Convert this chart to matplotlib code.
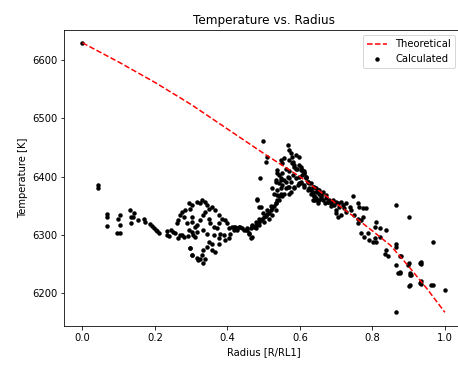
import matplotlib
matplotlib.use("Agg")
import matplotlib.pyplot as plt

# Theoretical curve
radius_theory = [0.0, 0.1, 0.2, 0.3, 0.4, 0.5, 0.6, 0.7, 0.75, 0.8, 0.85, 0.9, 0.95, 1.0]
temp_theory = [6630, 6597, 6562, 6524, 6482, 6440, 6400, 6354, 6331, 6307, 6282, 6246, 6208, 6167]

# Calculated points
calc_points = [
    (0.0, 6630),
    (0.044, 6380), (0.044, 6386),
    (0.067, 6336), (0.067, 6330), (0.067, 6315),
    (0.103, 6334), (0.098, 6327), (0.105, 6317), (0.096, 6304), (0.105, 6304),
    (0.131, 6342), (0.143, 6338), (0.133, 6330), (0.140, 6330), (0.133, 6320), (0.154, 6326),
    (0.171, 6328), (0.172, 6322),
    (0.187, 6318), (0.192, 6315), (0.197, 6312), (0.202, 6309), (0.206, 6306), (0.210, 6303),
    (0.233, 6300), (0.233, 6306), (0.240, 6298), (0.245, 6308), (0.250, 6305),
    (0.270, 6300), (0.280, 6296), (0.290, 6298), (0.305, 6300), (0.310, 6296),
    # blob
    (0.260, 6320), (0.265, 6325), (0.270, 6334), (0.274, 6340), (0.284, 6342), (0.279, 6331),
    (0.293, 6354), (0.302, 6351), (0.297, 6345), (0.316, 6357), (0.325, 6354), (0.330, 6360),
    (0.339, 6357), (0.343, 6351), (0.348, 6345), (0.357, 6348), (0.367, 6342), (0.376, 6334),
    (0.385, 6328), (0.394, 6325), (0.399, 6320), (0.404, 6311), (0.408, 6302), (0.404, 6294),
    (0.394, 6291), (0.390, 6300), (0.376, 6294),
    (0.302, 6331), (0.302, 6322), (0.316, 6317), (0.325, 6325), (0.334, 6334), (0.339, 6340),
    (0.348, 6328), (0.353, 6320), (0.362, 6314), (0.371, 6311), (0.376, 6320), (0.293, 6308),
    (0.302, 6305), (0.316, 6305), (0.334, 6308), (0.343, 6302), (0.362, 6300), (0.376, 6285),
    (0.380, 6302), (0.357, 6285), (0.348, 6288), (0.343, 6279), (0.334, 6274), (0.330, 6265),
    (0.325, 6259), (0.339, 6259), (0.334, 6251), (0.320, 6257), (0.297, 6277), (0.302, 6265),
    (0.357, 6274), (0.367, 6271), (0.311, 6314), (0.274, 6300), (0.265, 6294), (0.256, 6304),
    (0.288, 6320), (0.298, 6277), (0.302, 6265), (0.316, 6260),
    # band 0.41 - 0.55
    (0.413, 6314), (0.422, 6314), (0.431, 6314), (0.441, 6311), (0.450, 6308), (0.459, 6302),
    (0.417, 6308), (0.427, 6308),
    (0.418, 6314), (0.427, 6311), (0.436, 6313), (0.445, 6309), (0.455, 6308), (0.464, 6311),
    (0.469, 6315), (0.473, 6313), (0.478, 6317), (0.482, 6320), (0.487, 6323), (0.492, 6325),
    (0.496, 6328), (0.501, 6331), (0.506, 6332), (0.510, 6336), (0.515, 6338), (0.519, 6342),
    (0.524, 6346), (0.529, 6350), (0.533, 6354), (0.538, 6360), (0.542, 6366), (0.547, 6371),
    (0.533, 6343), (0.524, 6334), (0.515, 6328), (0.501, 6323), (0.487, 6317), (0.478, 6311),
    (0.464, 6294), (0.469, 6297), (0.459, 6303),
    (0.520, 6349), (0.510, 6343), (0.497, 6337), (0.487, 6328), (0.478, 6323), (0.469, 6317),
    (0.455, 6311),
    # isolated
    (0.482, 6360), (0.487, 6348), (0.490, 6397), (0.506, 6426), (0.510, 6434), (0.498, 6462),
    (0.483, 6361), (0.492, 6348),
    # plume 0.53 - 0.68
    (0.566, 6454), (0.570, 6446), (0.575, 6440), (0.579, 6434), (0.589, 6437), (0.598, 6434),
    (0.570, 6429), (0.579, 6423), (0.561, 6414), (0.570, 6409), (0.584, 6417), (0.593, 6414),
    (0.603, 6411), (0.612, 6409), (0.607, 6403), (0.616, 6397), (0.621, 6391), (0.626, 6389),
    (0.635, 6383), (0.644, 6380), (0.653, 6377), (0.663, 6374), (0.672, 6368),
    (0.552, 6406), (0.547, 6397), (0.556, 6394), (0.566, 6400), (0.575, 6391), (0.589, 6397),
    (0.598, 6389), (0.584, 6383), (0.570, 6383), (0.561, 6380), (0.547, 6380), (0.542, 6389),
    (0.538, 6377), (0.556, 6371), (0.570, 6371), (0.612, 6383), (0.621, 6377), (0.630, 6371),
    (0.640, 6366), (0.644, 6360), (0.658, 6363), (0.538, 6406), (0.533, 6394),
    (0.547, 6429), (0.552, 6423), (0.557, 6432), (0.580, 6426), (0.584, 6420), (0.589, 6414),
    (0.598, 6420), (0.607, 6412), (0.612, 6406), (0.617, 6400), (0.538, 6411), (0.543, 6403),
    (0.547, 6394), (0.534, 6391), (0.552, 6386), (0.561, 6391), (0.571, 6397), (0.580, 6403),
    (0.566, 6383), (0.575, 6374), (0.584, 6380), (0.594, 6386), (0.603, 6391), (0.524, 6380),
    (0.529, 6371), (0.538, 6369), (0.543, 6360), (0.552, 6366), (0.534, 6354),
    (0.630, 6377), (0.640, 6366), (0.654, 6360), (0.668, 6354), (0.686, 6349), (0.700, 6343),
    (0.645, 6374), (0.658, 6369), (0.677, 6357), (0.635, 6360), (0.649, 6354),
    # band 0.6 - 0.85
    (0.603, 6417), (0.607, 6411), (0.612, 6406), (0.598, 6400), (0.616, 6400), (0.603, 6389),
    (0.612, 6386), (0.621, 6391), (0.630, 6389), (0.626, 6380), (0.640, 6383), (0.635, 6374),
    (0.649, 6377), (0.653, 6371), (0.644, 6363), (0.640, 6360), (0.658, 6366), (0.663, 6360),
    (0.672, 6363), (0.677, 6357), (0.681, 6360), (0.686, 6354), (0.690, 6360), (0.695, 6351),
    (0.700, 6357), (0.704, 6354), (0.709, 6348), (0.713, 6357), (0.718, 6351), (0.723, 6346),
    (0.727, 6354), (0.737, 6348), (0.741, 6343), (0.700, 6337), (0.704, 6331), (0.713, 6334),
    (0.727, 6340), (0.746, 6366), (0.760, 6354), (0.764, 6348), (0.774, 6346), (0.783, 6346),
    (0.750, 6334), (0.760, 6328), (0.769, 6326), (0.774, 6331), (0.760, 6320), (0.811, 6323),
    (0.806, 6314), (0.820, 6311), (0.838, 6308), (0.769, 6303), (0.778, 6297), (0.787, 6303),
    (0.792, 6291), (0.801, 6288), (0.806, 6294), (0.811, 6288), (0.820, 6297),
    # tail 0.83 - 1.0
    (0.838, 6274), (0.834, 6268), (0.843, 6263), (0.866, 6285), (0.866, 6280), (0.866, 6248),
    (0.871, 6234), (0.875, 6234), (0.880, 6263), (0.898, 6248), (0.903, 6234), (0.903, 6214),
    (0.931, 6251), (0.935, 6220), (0.963, 6214), (0.968, 6287), (1.000, 6205), (0.866, 6351),
    (0.900, 6331), (0.866, 6167), (0.875, 6263), (0.901, 6251), (0.935, 6254), (0.933, 6250),
    (0.875, 6237), (0.903, 6231), (0.907, 6231), (0.901, 6212), (0.930, 6218), (0.935, 6216),
    (0.966, 6214),
]
radius_calc = [p[0] for p in calc_points]
temp_calc = [p[1] for p in calc_points]

W, H, DPI = 458, 365, 72
fig = plt.figure(figsize=(W / DPI, H / DPI), dpi=DPI)
ax = fig.add_axes([64.3 / W, (H - 326) / H, (463 - 64.3) / W, (326 - 30) / H])

ax.plot(radius_theory, temp_theory, 'r--', linewidth=1.5, label='Theoretical')
ax.scatter(radius_calc, temp_calc, s=20, c='k', linewidths=0, label='Calculated')

ax.set_xlim(-0.05, 1.05)
ax.set_ylim(6143.5, 6652)
ax.set_xticks([0.0, 0.2, 0.4, 0.6, 0.8, 1.0])
ax.set_yticks([6200, 6300, 6400, 6500, 6600])
ax.set_title('Temperature vs. Radius', fontsize=12)
ax.set_xlabel('Radius [R/RL1]', fontsize=10)
ax.set_ylabel('Temperature [K]', fontsize=10)
ax.tick_params(labelsize=10)
ax.legend(loc='upper right', fontsize=10, bbox_to_anchor=(0.993, 1.0))

fig.savefig('out.png', dpi=DPI)
